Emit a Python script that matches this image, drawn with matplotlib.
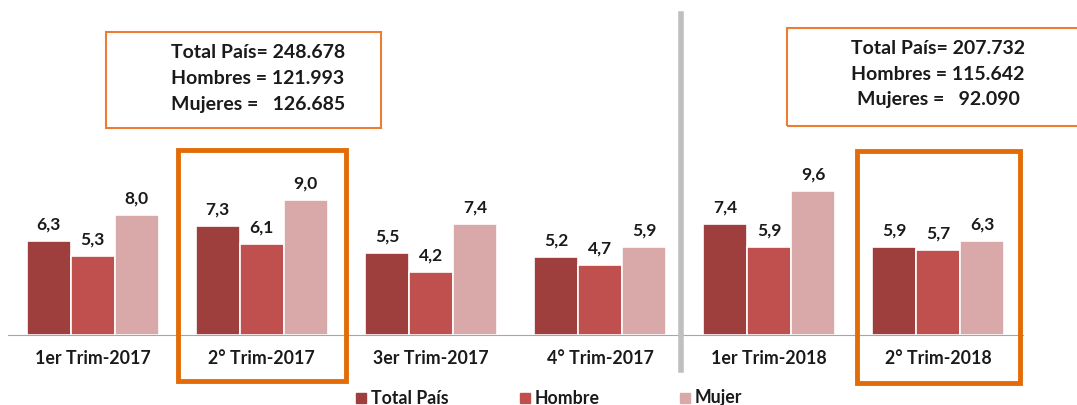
import matplotlib.pyplot as plt
import numpy as np
from matplotlib.patches import Rectangle

plt.rcParams['font.family'] = ['Lato', 'DejaVu Sans']
plt.rcParams['font.weight'] = 'bold'

trimestres = ['1er Trim-2017', '2° Trim-2017', '3er Trim-2017', '4° Trim-2017',
              '1er Trim-2018', '2° Trim-2018']
total_pais = [6.3, 7.3, 5.5, 5.2, 7.4, 5.9]
hombre = [5.3, 6.1, 4.2, 4.7, 5.9, 5.7]
mujer = [8.0, 9.0, 7.4, 5.9, 9.6, 6.3]
series = ['Total País', 'Hombre', 'Mujer']
colores = ['#9E3F3E', '#C0504D', '#D9A8A8']

caja_2017 = ['Total País= 248.678', 'Hombres = 121.993', 'Mujeres =   126.685']
caja_2018 = ['Total País= 207.732', 'Hombres = 115.642', 'Mujeres =   92.090']

W, H = 1077, 405
fig = plt.figure(figsize=(W / 100, H / 100), dpi=100)
ax = fig.add_axes([8 / W, (H - 335) / H, 1015 / W, 325 / H])

x = np.arange(len(trimestres))
ancho = 0.26
for i, (vals, nombre, col) in enumerate(zip([total_pais, hombre, mujer], series, colores)):
    pos = x + (i - 1) * ancho
    ax.bar(pos, vals, ancho, color=col, edgecolor='white', linewidth=1.2, label=nombre)
    for p, v in zip(pos, vals):
        ax.annotate(f'{v:.1f}'.replace('.', ','), (p, v), xytext=(0, 6),
                    textcoords='offset points', ha='center', va='bottom',
                    fontsize=12.5, fontweight='bold', color='#1a1a1a')

ax.set_xlim(-0.5, len(trimestres) - 0.5)
ax.set_ylim(0, 325 / 15)
ax.set_xticks(x)
ax.set_xticklabels(trimestres, fontsize=12.8, fontweight='bold', color='#1a1a1a')
ax.tick_params(axis='x', length=0, pad=11)
ax.set_yticks([])
for s in ['top', 'right', 'left']:
    ax.spines[s].set_visible(False)
ax.spines['bottom'].set_color('#a6a6a6')

# linea divisoria gris
fig.add_artist(plt.Line2D([681 / W, 681 / W], [1 - 14 / H, 1 - 370 / H],
                          color='#bfbfbf', linewidth=4))

# recuadros naranjas
for x0, y0, x1, y1 in [(178, 150, 346, 381), (857, 151, 1020, 383)]:
    fig.add_artist(Rectangle((x0 / W, 1 - y1 / H), (x1 - x0) / W, (y1 - y0) / H,
                             transform=fig.transFigure, fill=False,
                             edgecolor='#E36C09', linewidth=3.5))

# cajas de totales
for (x0, y0, x1, y1), cx, lineas in [((106, 32, 381, 128), 258, caja_2017),
                                     ((787, 28, 1090, 126), 938, caja_2018)]:
    fig.add_artist(Rectangle((x0 / W, 1 - y1 / H), (x1 - x0) / W, (y1 - y0) / H,
                             transform=fig.transFigure, fill=False,
                             edgecolor='#ED7D31', linewidth=1.5, clip_on=False))
    for k, t in enumerate(lineas):
        fig.text(cx / W, 1 - (y0 + 21 + 25.5 * k) / H, t, ha='center', va='center',
                 fontsize=14, fontweight='bold', color='#1a1a1a')

# leyenda
for lx, nombre, col in zip([356, 520, 680], series, colores):
    fig.add_artist(Rectangle((lx / W, 1 - 403 / H), 10 / W, 10 / H,
                             transform=fig.transFigure, color=col))
    fig.text((lx + 15) / W, 1 - 398 / H, nombre, ha='left', va='center',
             fontsize=12.8, fontweight='bold', color='#1a1a1a')

fig.savefig('out.png', dpi=100)
